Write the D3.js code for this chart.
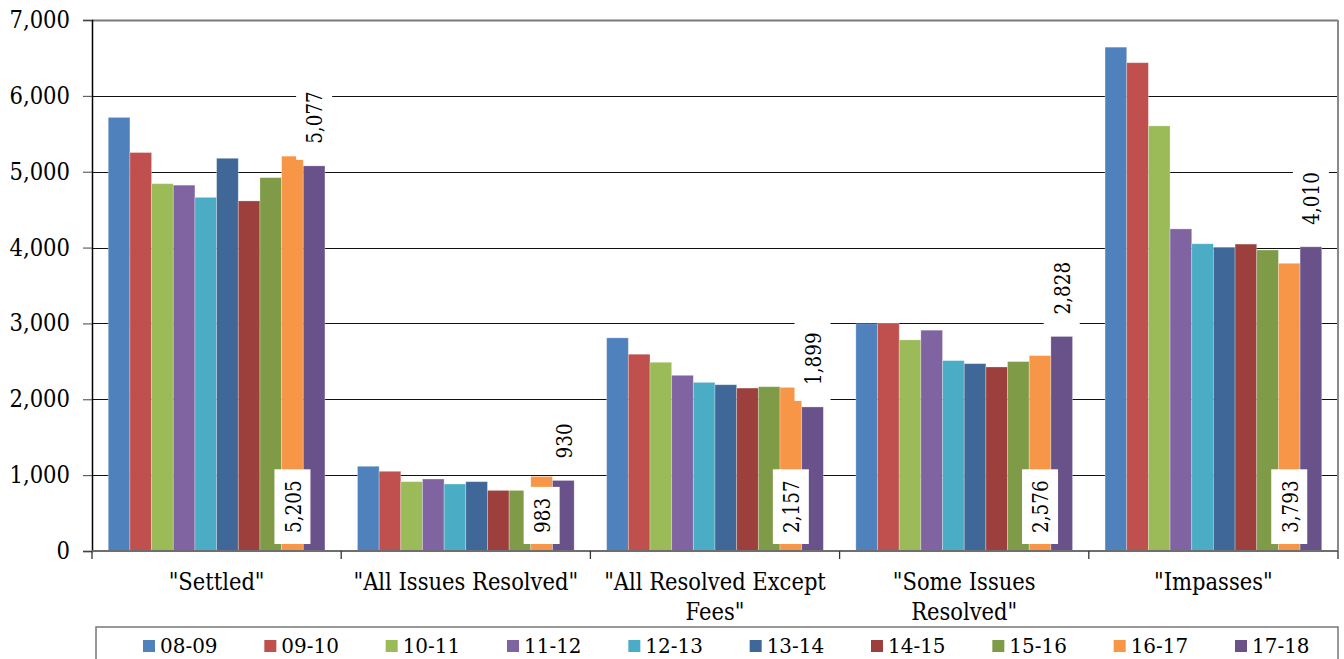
<!DOCTYPE html>
<html>
<head>
<meta charset="utf-8">
<script src="https://cdn.jsdelivr.net/npm/d3@7"></script>
<style>
  html, body { margin: 0; padding: 0; background: #fff; }
  svg { display: block; }
</style>
</head>
<body>
<svg id="chart" width="1344" height="659"></svg>
<script>
// Fiscal-year series shown as clustered bars
const series = ["08-09", "09-10", "10-11", "11-12", "12-13", "13-14", "14-15", "15-16", "16-17", "17-18"];

// Outcome categories (x axis), with their wrapped label lines
const categories = ["Settled", "All Issues Resolved", "All Resolved Except Fees", "Some Issues Resolved", "Impasses"];
const categoryLines = [
  ['"Settled"'],
  ['"All Issues Resolved"'],
  ['"All Resolved Except', 'Fees"'],
  ['"Some Issues', 'Resolved"'],
  ['"Impasses"']
];

// Counts per fiscal year, one entry per category
const v0809 = [5716, 1117, 2810, 2995, 6642];
const v0910 = [5253, 1051, 2594, 3005, 6437];
const v1011 = [4842, 914, 2488, 2783, 5604];
const v1112 = [4823, 949, 2316, 2911, 4246];
const v1213 = [4662, 883, 2223, 2510, 4050];
const v1314 = [5177, 914, 2192, 2470, 4005];
const v1415 = [4615, 799, 2148, 2426, 4046];
const v1516 = [4922, 799, 2166, 2497, 3968];
const v1617 = [5205, 983, 2157, 2576, 3793];
const v1718 = [5077, 930, 1899, 2828, 4010];

const seriesValues = [v0809, v0910, v1011, v1112, v1213, v1314, v1415, v1516, v1617, v1718];

const colors = ["#4F81BD", "#C0504D", "#9BBB59", "#8064A2", "#4BACC6",
                "#3F6898", "#9D403D", "#7F9B48", "#F79646", "#69518A"];

// Y axis ticks
const yTicks = [0, 1000, 2000, 3000, 4000, 5000, 6000, 7000];

// Series whose values are printed: one inside the bar base, one above the bar
const labelInside = "16-17";
const labelOutside = "17-18";

const FONT = "DejaVu Serif";

// Narrow a text run to a fraction of its natural width
function condense(sel, factor) {
  sel.each(function () {
    const len = this.getComputedTextLength();
    d3.select(this).attr("textLength", len * factor).attr("lengthAdjust", "spacingAndGlyphs");
  });
}

const svg = d3.select("#chart");
const plotLeft = 92, plotRight = 1338, plotTop = 20, plotBottom = 551;

const x0 = d3.scaleBand().domain(categories).range([plotLeft, plotRight]).paddingInner(0).paddingOuter(0);
const x1 = d3.scaleBand().domain(series).range([0, x0.bandwidth()]).paddingInner(0).paddingOuter(0.75);
const y = d3.scaleLinear().domain([0, 7000]).range([plotBottom, plotTop]);
const color = d3.scaleOrdinal().domain(series).range(colors);
const fmt = d3.format(",");

// Horizontal gridlines
svg.append("g").selectAll("line").data(yTicks.filter(t => t > 0)).join("line")
  .attr("x1", plotLeft).attr("x2", plotRight)
  .attr("y1", d => Math.round(y(d)) + 0.5).attr("y2", d => Math.round(y(d)) + 0.5)
  .attr("stroke", d => d === 7000 ? "#7a7a7a" : "#111")
  .attr("stroke-width", d => d === 7000 ? 2 : 1);

// Right frame edge
svg.append("line").attr("x1", plotRight).attr("x2", plotRight).attr("y1", plotTop).attr("y2", plotBottom)
  .attr("stroke", "#8a8a8a").attr("stroke-width", 2);

// Bars
const rows = [];
categories.forEach((c, ci) => {
  series.forEach((s, si) => rows.push({ cat: c, ser: s, value: seriesValues[si][ci] }));
});

svg.append("g").selectAll("rect").data(rows).join("rect")
  .attr("x", d => x0(d.cat) + x1(d.ser))
  .attr("y", d => y(d.value))
  .attr("width", x1.bandwidth())
  .attr("height", d => y(0) - y(d.value))
  .attr("fill", d => color(d.ser))
  .attr("stroke", "rgba(255,255,255,0.35)")
  .attr("stroke-width", 0.8);

// Y axis
const yAxis = d3.axisLeft(y).tickValues(yTicks).tickFormat(fmt).tickSize(9).tickPadding(13);
const gy = svg.append("g").attr("transform", `translate(${plotLeft},0)`).call(yAxis);
gy.attr("font-family", FONT).attr("font-size", 23.5);
gy.select(".domain").attr("stroke", "#000").attr("stroke-width", 1.5);
gy.selectAll(".tick line").attr("stroke", "#444");
gy.selectAll(".tick text").attr("fill", "#000").call(condense, 0.9);

// X axis: baseline and category boundary ticks
svg.append("line").attr("x1", plotLeft).attr("x2", plotRight).attr("y1", plotBottom).attr("y2", plotBottom)
  .attr("stroke", "#6e6e6e").attr("stroke-width", 2);
const bounds = categories.map(c => x0(c)).concat([plotRight]);
svg.append("g").selectAll("line").data(bounds).join("line")
  .attr("x1", d => d).attr("x2", d => d).attr("y1", plotBottom).attr("y2", plotBottom + 8)
  .attr("stroke", "#333").attr("stroke-width", 1.3);

// Category labels
const catG = svg.append("g").attr("font-family", FONT).attr("font-size", 24.5);
categories.forEach((c, ci) => {
  const cx = x0(c) + x0.bandwidth() / 2;
  categoryLines[ci].forEach((line, li) => {
    catG.append("text")
      .attr("x", cx)
      .attr("y", 590 + li * 30)
      .attr("text-anchor", "middle")
      .attr("fill", "#000")
      .text(line)
      .call(condense, 0.86);
  });
});

// Value labels (rotated, on white boxes)
const labelG = svg.append("g");
function valueLabel(cat, ser, inside) {
  const value = seriesValues[series.indexOf(ser)][categories.indexOf(cat)];
  const cx = x0(cat) + x1(ser) + x1.bandwidth() / 2;
  const g = labelG.append("g");
  const box = g.append("rect").attr("fill", "#fff");
  const txt = g.append("text")
    .attr("text-anchor", "start")
    .attr("dy", "0.36em")
    .attr("font-family", FONT)
    .attr("font-size", 23)
    .attr("fill", "#000")
    .text(fmt(value));
  const len = txt.node().getComputedTextLength() * 0.8;
  txt.attr("textLength", len).attr("lengthAdjust", "spacingAndGlyphs");
  let textBottom, boxTop, boxBottom;
  if (inside) {
    boxBottom = y(0) - 7;
    boxTop = boxBottom - (len + 22);
    textBottom = boxBottom - 11;
  } else {
    textBottom = y(value) - 22;
    boxBottom = y(value) - 6;
    boxTop = textBottom - len - 11;
  }
  txt.attr("transform", `translate(${cx},${textBottom}) rotate(-90)`);
  box.attr("x", cx - 18).attr("width", 36).attr("y", boxTop).attr("height", boxBottom - boxTop);
}
categories.forEach(c => {
  valueLabel(c, labelInside, true);
  valueLabel(c, labelOutside, false);
});

// Legend
const lg = svg.append("g");
lg.append("rect").attr("x", 96).attr("y", 627).attr("width", 1242).attr("height", 45)
  .attr("fill", "#fff").attr("stroke", "#777").attr("stroke-width", 1.5);
const legendX = d3.scalePoint().domain(series).range([143, 1235]);
const items = lg.selectAll("g.item").data(series).join("g").attr("class", "item")
  .attr("transform", d => `translate(${legendX(d)},0)`);
items.append("rect").attr("x", 0).attr("y", 640).attr("width", 12).attr("height", 12)
  .attr("fill", d => color(d));
items.append("text").attr("x", 17).attr("y", 653)
  .attr("font-family", FONT).attr("font-size", 21).attr("fill", "#000")
  .text(d => d)
  .call(condense, 0.95);
</script>
</body>
</html>
